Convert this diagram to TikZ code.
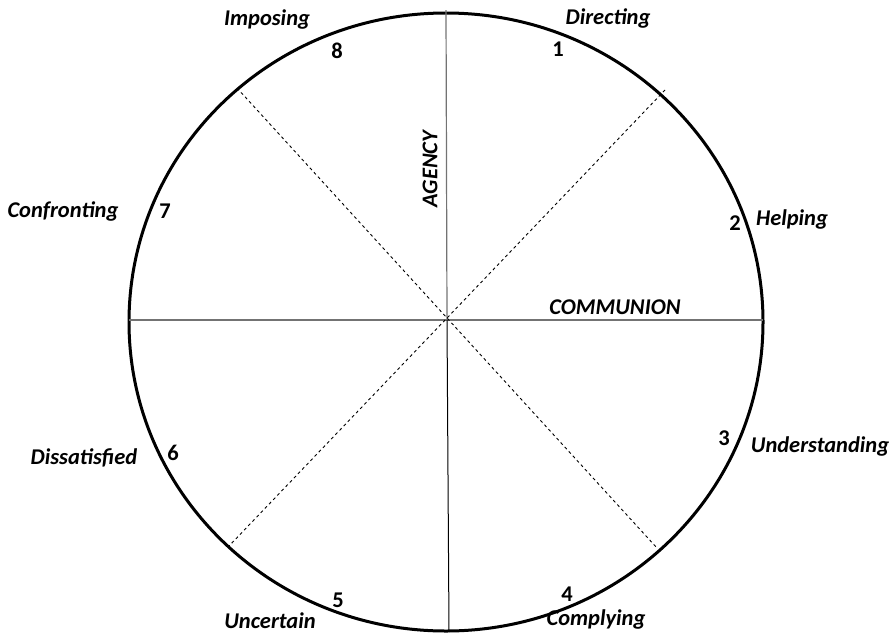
\documentclass[tikz,border=0pt]{standalone}
\usepackage{fontspec}
\setmainfont{Carlito}
\begin{document}
\begin{tikzpicture}[x=1pt,y=-1pt,
  lab/.style={font=\fontsize{22.5}{27}\selectfont\bfseries\itshape, inner sep=0pt},
  num/.style={font=\fontsize{22.5}{27}\selectfont\bfseries, inner sep=0pt},
  axisgray/.style={draw=black!55, line width=1.5pt},
  diag/.style={draw=black, line width=0.9pt, dash pattern=on 3pt off 3pt}]
\useasboundingbox (0,0) rectangle (896,635);
% circle
\draw[line width=3pt] (446,322) ellipse [x radius=317, y radius=309];
% axis end points
\coordinate (L) at (129,320);
\coordinate (R) at (763,320);
\coordinate (T) at (446,10);
\coordinate (C) at (447,320);
\coordinate (B) at (449,632);
\coordinate (UL) at (237,88);
\coordinate (LR) at (657,548);
\coordinate (UR) at (665,90);
\coordinate (LL) at (229,546);
\draw[axisgray] (L) -- (R);
\draw[draw=black!55, line width=1.2pt] (T) -- (C);
\draw[line width=1pt] (C) -- (B);
\draw[diag] (UL) -- (LR);
\draw[diag] (UR) -- (LL);
% axis labels
\node[lab] (comm) at (615,307) {COMMUNION};
\node[lab, rotate=90] (agency) at (430,169) {AGENCY};
% octant labels
\node[lab] (l8) at (267,19) {Imposing};
\node[num] (n8) at (337,51) {8};
\node[lab] (l1) at (608,18) {Directing};
\node[num] (n1) at (558,49) {1};
\node[lab] (l7) at (63,211) {Confronting};
\node[num] (n7) at (165,211) {7};
\node[lab] (l2) at (792,219) {Helping};
\node[num] (n2) at (735,223) {2};
\node[lab] (l3) at (820,446) {Understanding};
\node[num] (n3) at (724,438) {3};
\node[lab] (l6) at (84,458) {Dissatisfied};
\node[num] (n6) at (173,453) {6};
\node[lab] (l4) at (596,619) {Complying};
\node[num] (n4) at (567,594) {4};
\node[lab] (l5) at (270,621) {Uncertain};
\node[num] (n5) at (338,600) {5};
\end{tikzpicture}
\end{document}
